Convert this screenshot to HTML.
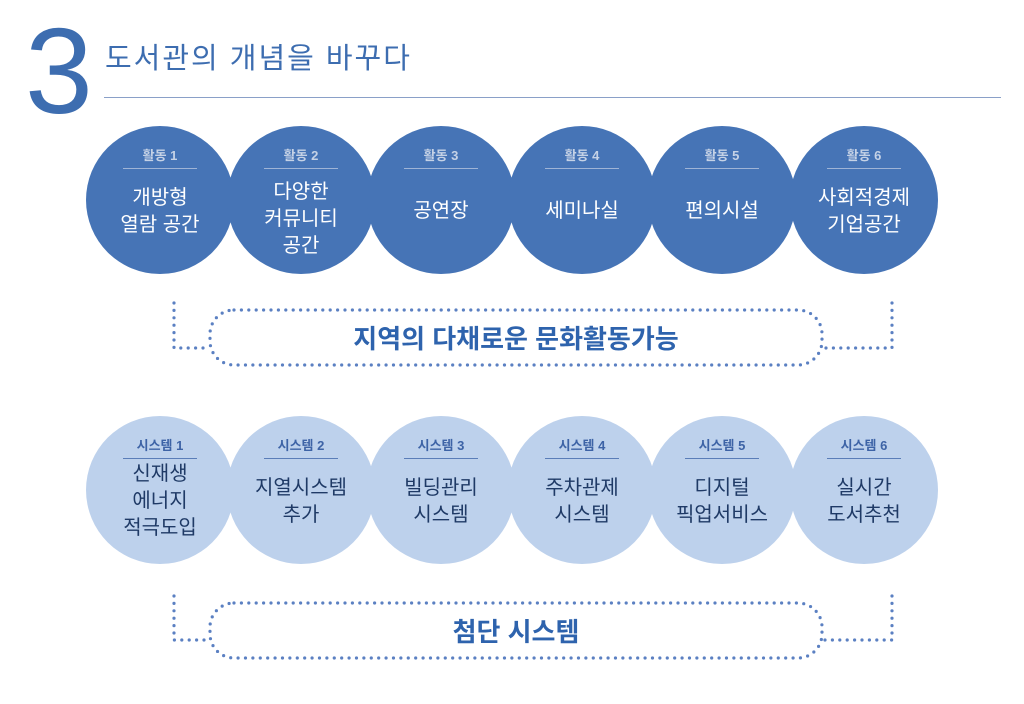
<!DOCTYPE html>
<html><head><meta charset="utf-8"><style>
body{margin:0;width:1024px;height:704px;background:#fff;position:relative;overflow:hidden;font-family:"Liberation Sans","Noto Sans CJK KR",sans-serif}
.c{position:absolute;width:148px;height:148px;border-radius:50%;text-align:center}
.t{background:#4674b6;color:#fff}
.b{background:#bdd1ec;color:#1f3a66}
.h{position:absolute;left:37px;width:74px;top:19px;font-size:13px;font-weight:bold;padding-bottom:4px;border-bottom:1.5px solid}
.t .h{color:#c5d2e6;border-color:#9fb4d6}
.b .h{color:#3d63a6;border-color:#5a7db8}
.m{position:absolute;left:0;right:0;font-size:20px;line-height:27px}
.abs{position:absolute}
</style></head><body>
<div class="abs" style="left:25px;top:10px;font-size:122px;color:#3d6db0;line-height:122px;font-weight:normal">3</div>
<div class="abs" style="left:105px;top:35px;font-size:29px;color:#3d6db0;letter-spacing:2px">도서관의 개념을 바꾸다</div>
<div class="abs" style="left:104px;top:97px;width:897px;height:1px;background:#8aa0c8"></div>

<div class="c t" style="left:86px;top:126px"><div class="h">활동 1</div><div class="m" style="top:59px">개방형<br>열람 공간</div></div>
<div class="c t" style="left:227px;top:126px"><div class="h">활동 2</div><div class="m" style="top:53px">다양한<br>커뮤니티<br>공간</div></div>
<div class="c t" style="left:367px;top:126px"><div class="h">활동 3</div><div class="m" style="top:72px">공연장</div></div>
<div class="c t" style="left:508px;top:126px"><div class="h">활동 4</div><div class="m" style="top:72px">세미나실</div></div>
<div class="c t" style="left:648px;top:126px"><div class="h">활동 5</div><div class="m" style="top:72px">편의시설</div></div>
<div class="c t" style="left:790px;top:126px"><div class="h">활동 6</div><div class="m" style="top:59px">사회적경제<br>기업공간</div></div>

<div class="c b" style="left:86px;top:416px"><div class="h">시스템 1</div><div class="m" style="top:45px">신재생<br>에너지<br>적극도입</div></div>
<div class="c b" style="left:227px;top:416px"><div class="h">시스템 2</div><div class="m" style="top:59px">지열시스템<br>추가</div></div>
<div class="c b" style="left:367px;top:416px"><div class="h">시스템 3</div><div class="m" style="top:59px">빌딩관리<br>시스템</div></div>
<div class="c b" style="left:508px;top:416px"><div class="h">시스템 4</div><div class="m" style="top:59px">주차관제<br>시스템</div></div>
<div class="c b" style="left:648px;top:416px"><div class="h">시스템 5</div><div class="m" style="top:59px">디지털<br>픽업서비스</div></div>
<div class="c b" style="left:790px;top:416px"><div class="h">시스템 6</div><div class="m" style="top:59px">실시간<br>도서추천</div></div>

<svg class="abs" style="left:0;top:0" width="1024" height="704">
<g fill="none" stroke="#5b80c2" stroke-width="3.2" stroke-linecap="round" stroke-dasharray="0 7.4">
<rect x="210" y="310" width="612" height="55" rx="24"/>
<path d="M174 303 V348 H210 M892 303 V348 H822"/>
<rect x="210" y="603" width="612" height="55" rx="24"/>
<path d="M174 596 V640 H210 M892 596 V640 H822"/>
</g>
<text x="516" y="348" text-anchor="middle" font-size="26" font-weight="bold" fill="#2e63ad" font-family="Liberation Sans, Noto Sans CJK KR, sans-serif">지역의 다채로운 문화활동가능</text>
<text x="516" y="641" text-anchor="middle" font-size="26" font-weight="bold" fill="#2e63ad" font-family="Liberation Sans, Noto Sans CJK KR, sans-serif">첨단 시스템</text>
</svg>
</body></html>
